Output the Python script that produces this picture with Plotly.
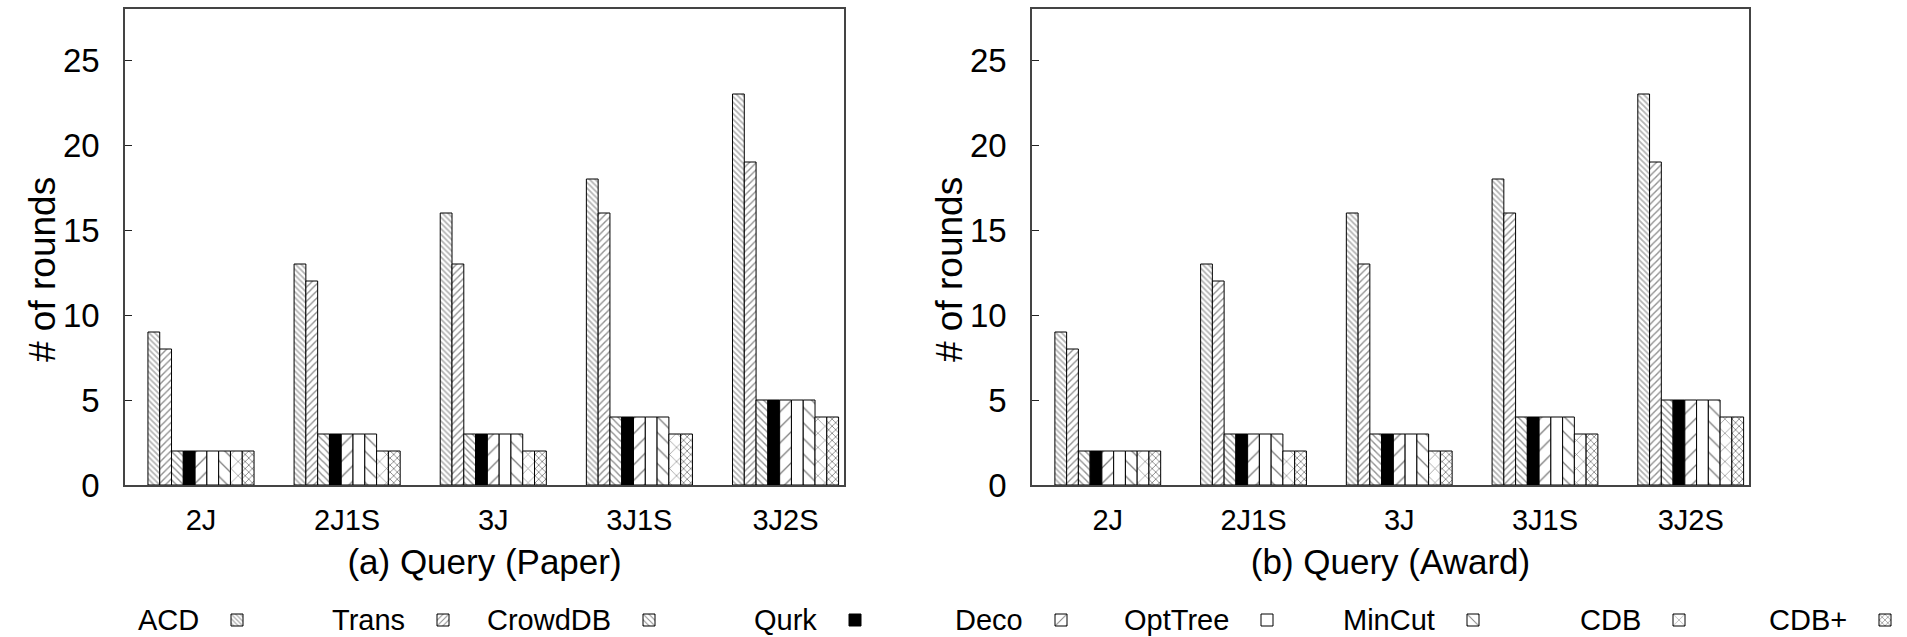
import plotly.graph_objects as go

categories = ["2J", "2J1S", "3J", "3J1S", "3J2S"]
methods = ["ACD", "Trans", "CrowdDB", "Qurk", "Deco", "OptTree", "MinCut", "CDB", "CDB+"]

paper_vals = {
    "ACD":     [9, 13, 16, 18, 23],
    "Trans":   [8, 12, 13, 16, 19],
    "CrowdDB": [2, 3, 3, 4, 5],
    "Qurk":    [2, 3, 3, 4, 5],
    "Deco":    [2, 3, 3, 4, 5],
    "OptTree": [2, 3, 3, 4, 5],
    "MinCut":  [2, 3, 3, 4, 5],
    "CDB":     [2, 2, 2, 3, 4],
    "CDB+":    [2, 2, 2, 3, 4],
}
award_vals = {
    "ACD":     [9, 13, 16, 18, 23],
    "Trans":   [8, 12, 13, 16, 19],
    "CrowdDB": [2, 3, 3, 4, 5],
    "Qurk":    [2, 3, 3, 4, 5],
    "Deco":    [2, 3, 3, 4, 5],
    "OptTree": [2, 3, 3, 4, 5],
    "MinCut":  [2, 3, 3, 4, 5],
    "CDB":     [2, 2, 2, 3, 4],
    "CDB+":    [2, 2, 2, 3, 4],
}
subtitles = ["(a) Query (Paper)", "(b) Query (Award)"]
y_title = "# of rounds"

styles = {
    "ACD":     dict(color="white", pattern=dict(shape="\\", size=4, solidity=0.45, fgcolor="#666666", bgcolor="white")),
    "Trans":   dict(color="white", pattern=dict(shape="/", size=5, solidity=0.28, fgcolor="#222222", bgcolor="white")),
    "CrowdDB": dict(color="white", pattern=dict(shape="\\", size=5, solidity=0.28, fgcolor="#222222", bgcolor="white")),
    "Qurk":    dict(color="black"),
    "Deco":    dict(color="white", pattern=dict(shape="/", size=11, solidity=0.12, fgcolor="black", bgcolor="white")),
    "OptTree": dict(color="white"),
    "MinCut":  dict(color="white", pattern=dict(shape="\\", size=11, solidity=0.12, fgcolor="black", bgcolor="white")),
    "CDB":     dict(color="white", pattern=dict(shape="x", size=10, solidity=0.12, fgcolor="black", bgcolor="white")),
    "CDB+":    dict(color="white", pattern=dict(shape="x", size=5, solidity=0.3, fgcolor="black", bgcolor="white")),
}

W, H = 1907, 637
FONT = "Liberation Sans, Arial, sans-serif"


def px(v):
    return v / W


def py(v):
    return 1 - v / H


fig = go.Figure()
legend_names = ["legend"] + ["legend%d" % (i + 1) for i in range(1, len(methods))]
for k, (vals, xa, ya) in enumerate([(paper_vals, "x", "y"), (award_vals, "x2", "y2")]):
    for i, m in enumerate(methods):
        st = styles[m]
        marker = dict(color=st["color"], line=dict(color="black", width=1))
        if "pattern" in st:
            marker["pattern"] = st["pattern"]
        fig.add_trace(go.Bar(
            x=categories, y=vals[m], name="", legendgroup=m,
            legend=legend_names[i],
            showlegend=(k == 0), marker=marker, xaxis=xa, yaxis=ya,
            hovertemplate=m + ": %{y}<extra></extra>",
        ))

ydom = [py(485), py(9)]
axis_common = dict(showline=True, linecolor="#444444", linewidth=1.5, mirror=True,
                   showgrid=False, zeroline=False, automargin=False)
xaxis_common = dict(type="category", categoryorder="array", categoryarray=categories,
                    range=[-0.52, 4.40], ticks="", tickfont=dict(size=29),
                    ticklabelstandoff=8, **axis_common)
yaxis_common = dict(range=[0, 28], dtick=5, ticks="inside", ticklen=7,
                    tickcolor="#222222", tickfont=dict(size=33),
                    ticklabelstandoff=17, **axis_common)
fig.update_layout(
    width=W, height=H,
    margin=dict(l=0, r=0, t=0, b=0, autoexpand=False),
    paper_bgcolor="white", plot_bgcolor="white",
    font=dict(family=FONT, color="black"),
    barmode="group", bargap=0.274, bargroupgap=0,
    xaxis=dict(domain=[px(125), px(844)], anchor="y",
               title=dict(text=subtitles[0], font=dict(size=35), standoff=15),
               **xaxis_common),
    yaxis=dict(domain=ydom, anchor="x", **yaxis_common),
    xaxis2=dict(domain=[px(1032), px(1749)], anchor="y2",
                title=dict(text=subtitles[1], font=dict(size=35), standoff=15),
                **xaxis_common),
    yaxis2=dict(domain=ydom, anchor="x2", **yaxis_common),
    showlegend=True,
)

# y-axis titles (gnuplot places them slightly below the plot centre)
for xc in (42, 949):
    fig.add_annotation(text=y_title, x=px(xc), y=py(270), xref="paper", yref="paper",
                       xanchor="center", yanchor="middle", textangle=-90,
                       showarrow=False, font=dict(size=37, family=FONT))

# one small legend per method, each placed right of its label (gnuplot style)
sample_centers = [237 + 206 * i for i in range(len(methods))]
for name, c in zip(legend_names, sample_centers):
    fig.update_layout({name: dict(orientation="h", x=px(c - 20), xanchor="left",
                                  y=py(620), yanchor="middle", font=dict(size=20),
                                  bgcolor="rgba(0,0,0,0)", itemclick=False,
                                  itemdoubleclick=False)})

for m, c in zip(methods, sample_centers):
    fig.add_annotation(text=m, x=px(c - 36), y=py(620), xref="paper", yref="paper",
                       xanchor="right", yanchor="middle", showarrow=False,
                       font=dict(size=29, family=FONT))

fig.write_html("out.html")
